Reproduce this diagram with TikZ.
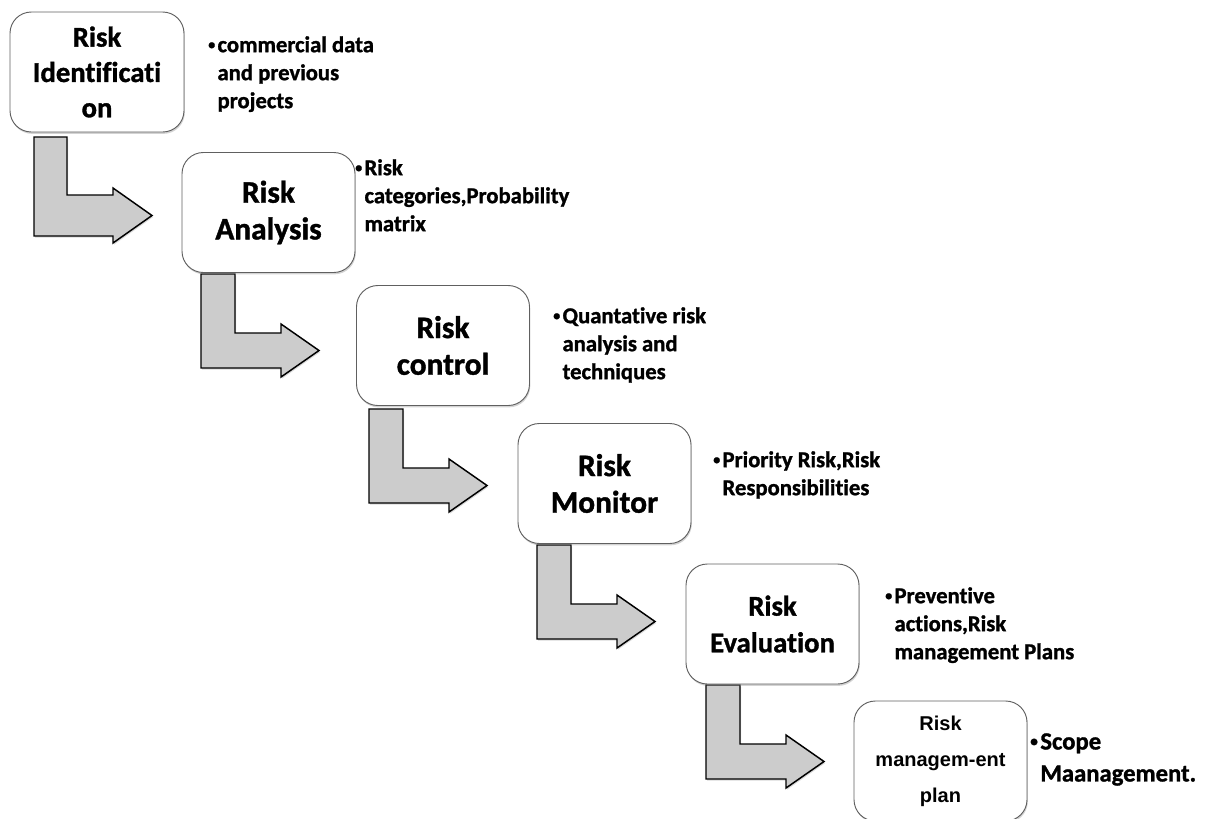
\documentclass[tikz,border=0pt]{standalone}
\usepackage{fontspec}
\setmainfont{Carlito}[Ligatures=CommonOff, BoldFeatures={FakeBold=1.2}]
\newfontfamily\arialfont{Liberation Sans}
\usetikzlibrary{shadows}
\newcommand{\dotb}{\raisebox{0.13em}{\scalebox{0.62}{•}}\hspace{0.1em}}

\begin{document}
\begin{tikzpicture}[x=0.75pt, y=-0.75pt,
    stepbox/.style={draw=gray!75!black, line width=0.7pt, fill=white, rounded corners=16pt,
      minimum width=129.75pt, minimum height=90pt, align=center, inner sep=2pt,
      drop shadow={shadow xshift=0.6pt, shadow yshift=-1.4pt, opacity=0.35},
      font=\fontsize{23.5}{27.5}\selectfont\bfseries},
    notetext/.style={anchor=north west, inner sep=0pt, align=left,
      font=\fontsize{17}{21}\selectfont\bfseries},
    bentarrow/.style={draw=black, line width=1.1pt, fill=gray!40, line join=miter,
      drop shadow={shadow xshift=0.8pt, shadow yshift=-1.2pt, opacity=0.3}}]
  \useasboundingbox (0,0) rectangle (1206,818);

  % Arrows (drawn first, boxes on top)
  \coordinate (a1) at (34,137);
  \coordinate (a2) at (201,274);
  \coordinate (a3) at (369,409);
  \coordinate (a4) at (537,545);
  \coordinate (a5) at (706,685);
  \draw[bentarrow] (a1) -- ++(33,0) -- ++(0,58) -- ++(46,0) -- ++(0,-7) -- ++(39,27.5)
    -- ++(-39,27.5) -- ++(0,-7) -- ++(-79,0) -- cycle;
  \draw[bentarrow] (a2) -- ++(34,0) -- ++(0,59) -- ++(46,0) -- ++(0,-9) -- ++(38,26.5)
    -- ++(-38,26.5) -- ++(0,-9) -- ++(-80,0) -- cycle;
  \draw[bentarrow] (a3) -- ++(34,0) -- ++(0,59) -- ++(46,0) -- ++(0,-9) -- ++(38,26.5)
    -- ++(-38,26.5) -- ++(0,-9) -- ++(-80,0) -- cycle;
  \draw[bentarrow] (a4) -- ++(34,0) -- ++(0,59) -- ++(46,0) -- ++(0,-9) -- ++(38,26.5)
    -- ++(-38,26.5) -- ++(0,-9) -- ++(-80,0) -- cycle;
  \draw[bentarrow] (a5) -- ++(34,0) -- ++(0,59) -- ++(46,0) -- ++(0,-9) -- ++(38,26.5)
    -- ++(-38,26.5) -- ++(0,-9) -- ++(-80,0) -- cycle;

  % Step boxes
  \node[stepbox, minimum width=130.5pt, font=\fontsize{21.5}{26.5}\selectfont\bfseries] (b1) at (97,72) {Risk\\Identificati\\on};
  \node[stepbox] (b2) at (268.5,212.5) {Risk\\Analysis};
  \node[stepbox] (b3) at (443,345.5) {Risk\\control};
  \node[stepbox] (b4) at (604.5,483.5) {Risk\\Monitor};
  \node[stepbox, font=\fontsize{21.5}{27.5}\selectfont\bfseries] (b5) at (772.5,624) {Risk\\Evaluation};
  \node[stepbox, font=\arialfont\fontsize{15}{27}\selectfont\bfseries] (b6) at (940.5,761) {Risk\\managem-ent\\plan};

  % Notes
  \node[notetext] (n1) at (208,36) {\dotb commercial data\\\hphantom{\dotb}and previous\\\hphantom{\dotb}projects};
  \node[notetext] (n2) at (355,159) {\dotb Risk\\\hphantom{\dotb}categories,Probability\\\hphantom{\dotb}matrix};
  \node[notetext] (n3) at (553,307) {\dotb Quantative risk\\\hphantom{\dotb}analysis and\\\hphantom{\dotb}techniques};
  \node[notetext] (n4) at (713,451) {\dotb Priority Risk,Risk\\\hphantom{\dotb}Responsibilities};
  \node[notetext] (n5) at (885,587) {\dotb Preventive\\\hphantom{\dotb}actions,Risk\\\hphantom{\dotb}management Plans};
  \node[notetext, font=\fontsize{18.5}{24}\selectfont\bfseries] (n6) at (1030,733) {\dotb Scope\\\hphantom{\dotb}Maanagement.};
\end{tikzpicture}
\end{document}
